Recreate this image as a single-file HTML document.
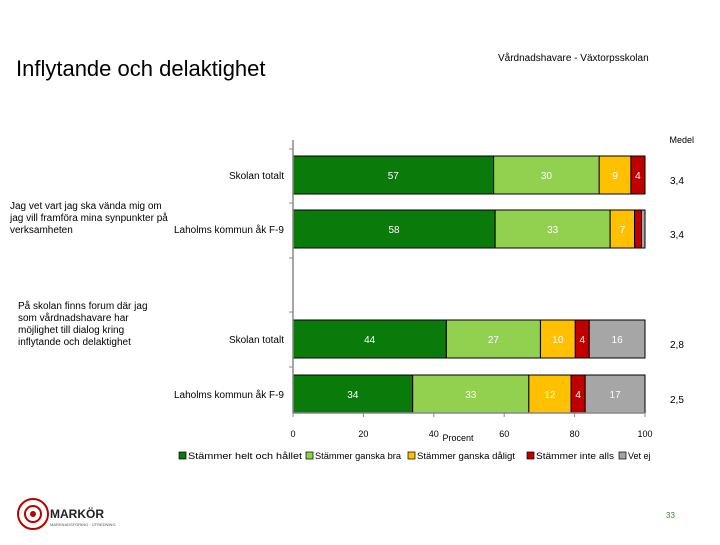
<!DOCTYPE html>
<html><head><meta charset="utf-8"><style>
body{margin:0;background:#fff;}
svg text{font-family:"Liberation Sans",sans-serif;}
</style></head><body>
<svg width="720" height="540" xmlns="http://www.w3.org/2000/svg" id="chart">
<text x="16" y="76" font-size="22" fill="#000">Inflytande och delaktighet</text>
<text x="498" y="61" font-size="10" fill="#000">Vårdnadshavare - Växtorpsskolan</text>
<text x="694" y="143" font-size="9" text-anchor="end">Medel</text>
<text x="10" y="209" font-size="10"><tspan x="10">Jag vet vart jag ska vända mig om</tspan><tspan x="10" dy="12">jag vill framföra mina synpunkter på</tspan><tspan x="10" dy="12">verksamheten</tspan></text>
<text x="18" y="309" font-size="10"><tspan x="18">På skolan finns forum där jag</tspan><tspan x="18" dy="12">som vårdnadshavare har</tspan><tspan x="18" dy="12">möjlighet till dialog kring</tspan><tspan x="18" dy="12">inflytande och delaktighet</tspan></text>
<g id="plot"></g>
<g id="legend"></g>
<g>
<circle cx="33" cy="514" r="15" fill="none" stroke="#b00" stroke-width="2"/>
<circle cx="33" cy="514" r="8" fill="none" stroke="#b00" stroke-width="2"/>
<circle cx="33" cy="514" r="3" fill="#b00"/>
<text x="50" y="518" font-size="12" font-weight="bold" fill="#222">MARKÖR</text>
<text x="50" y="526" font-size="4" fill="#555">MARKNADSFÖRING · UTREDNING</text>
</g>
<text x="666" y="518" font-size="8" fill="#2a8a2a">33</text>
</svg>
<script>
const groups=["Skolan totalt","Laholms kommun åk F-9","Skolan totalt","Laholms kommun åk F-9"];
const s1=[57,58,44,34];
const s2=[30,33,27,33];
const s3=[9,7,10,12];
const s4=[4,2,4,4];
const s5=[0,1,16,17];
const means=["3,4","3,4","2,8","2,5"];
const seriesNames=["Stämmer helt och hållet","Stämmer ganska bra","Stämmer ganska dåligt","Stämmer inte alls","Vet ej"];
const colors=["#0a7a0a","#92d050","#ffc000","#c00000","#a6a6a6"];
const ticks=[0,20,40,60,80,100];
const ns="http://www.w3.org/2000/svg";
const x0=293,x1=645;
const xs=v=>x0+(x1-x0)*v/100;
const rowY=[156,210,320,375],bh=38;
const plot=document.getElementById('plot');
function mk(t,a,p){const e=document.createElementNS(ns,t);for(const k in a)e.setAttribute(k,a[k]);(p||plot).appendChild(e);return e;}
const all=[s1,s2,s3,s4,s5];
for(let r=0;r<groups.length;r++){
 let acc=0;
 let tot=0;for(let s=0;s<5;s++)tot+=all[s][r];
 const k=100/tot;
 for(let s=0;s<5;s++){
  const v=all[s][r]; if(v<=0){continue;}
  const a0=acc*k,a1=(acc+v)*k;
  const rc=mk('rect',{x:xs(a0),y:rowY[r],width:xs(a1)-xs(a0),height:bh,fill:colors[s],stroke:'#000','stroke-width':1});
  
  
  if(v>=3){const t=mk('text',{x:(xs(a0)+xs(a1))/2,y:rowY[r]+bh/2+4,'font-size':10,fill:'#fff','text-anchor':'middle'});t.textContent=v;
   
   }
  acc+=v;
 }
 const g=mk('text',{x:284,y:rowY[r]+bh/2+4,'font-size':10,'text-anchor':'end'});g.textContent=groups[r];
 
 
 const m=mk('text',{x:670,y:rowY[r]+bh/2+9,'font-size':10});m.textContent=means[r];
 
 
}
const ax=mk('line',{x1:x0,y1:140,x2:x0,y2:413,stroke:'#888','stroke-width':1.5});


const xa=mk('line',{x1:x0,y1:413,x2:x1,y2:413,stroke:'#888','stroke-width':1.5});


[149,203,258,312,367].forEach(y=>mk('line',{x1:x0-4,y1:y,x2:x0,y2:y,stroke:'#888'}));
ticks.forEach(t=>{mk('line',{x1:xs(t),y1:413,x2:xs(t),y2:417,stroke:'#888'});
 const tx=mk('text',{x:xs(t),y:437,'font-size':9,'text-anchor':'middle'});tx.textContent=t;
 
 });
const pt=mk('text',{x:458,y:441,'font-size':9,'text-anchor':'middle'});pt.textContent="Procent";


const lg=document.getElementById('legend');
const lx=[179,306,408,527,619];
seriesNames.forEach((n,i)=>{
 const r=mk('rect',{x:lx[i],y:452,width:7,height:7,fill:colors[i],stroke:'#000','stroke-width':0.7},lg);
 
 
 const t=mk('text',{x:lx[i]+9,y:459,'font-size':9,textLength:(i==0?114:i==1?86:i==2?98:78),lengthAdjust:'spacingAndGlyphs'},lg);
 if(i==4){t.removeAttribute('textLength');t.removeAttribute('lengthAdjust');}
 t.textContent=n;
 
 
});
</script>
</body></html>
